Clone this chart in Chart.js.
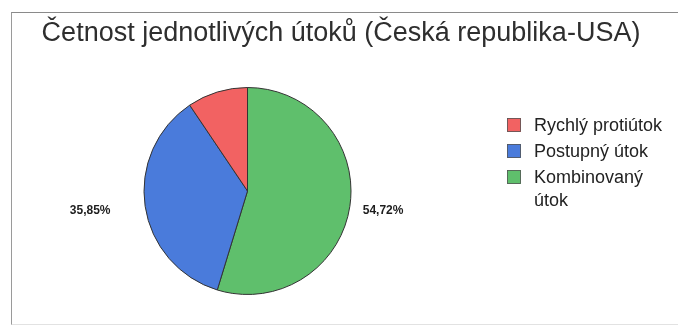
<!DOCTYPE html>
<html>
<head>
<meta charset="utf-8">
<script src="https://cdn.jsdelivr.net/npm/chart.js@4/dist/chart.umd.min.js"></script>
<style>
  html, body { margin: 0; padding: 0; background: #fff; }
  #wrap { position: relative; width: 678px; height: 326px; overflow: hidden; }
  #frame { position: absolute; left: 11px; top: 12px; width: 700px; height: 311px;
           border-left: 1px solid #9a9a9a; border-top: 1px solid #8a8a8a; border-bottom: 1px solid #e2e2e2; }
  canvas { position: absolute; left: 0; top: 0; }
</style>
</head>
<body>
<div id="wrap">
  <div id="frame"></div>
  <canvas id="c" width="678" height="326"></canvas>
</div>
<script>
// Attack types and their share of all attacks (percent)
const categories = ['Rychlý protiútok', 'Postupný útok', 'Kombinovaný útok'];
const shares = [9.43, 35.85, 54.72];
const colors = ['#f26262', '#4a7bdb', '#5fbf6c'];
const showValue = [false, true, true];
const titleText = 'Četnost jednotlivých útoků (Česká republika-USA)';

const FONT = '"Liberation Sans", Arial, sans-serif';

// Slices run clockwise from 12 o'clock in reverse category order
const order = categories.map((_, i) => i).reverse();

const fmt = v => v.toFixed(2).replace('.', ',') + '%';

const decorations = {
  id: 'decorations',
  afterDraw(chart) {
    const ctx = chart.ctx;
    ctx.save();
    // title
    ctx.fillStyle = '#2e2e2e';
    ctx.font = '27px ' + FONT;
    ctx.textAlign = 'center';
    ctx.textBaseline = 'alphabetic';
    ctx.fillText(titleText, 341, 41);

    // value labels beside the slices
    const meta = chart.getDatasetMeta(0);
    ctx.font = 'bold 12px ' + FONT;
    ctx.fillStyle = '#1e1e1e';
    ctx.textBaseline = 'middle';
    meta.data.forEach((arc, j) => {
      const idx = order[j];
      if (!showValue[idx]) return;
      const mid = (arc.startAngle + arc.endAngle) / 2;
      const c = Math.cos(mid), s = Math.sin(mid);
      const left = c < 0;
      const d = arc.outerRadius + (left ? 35 : 13);
      ctx.textAlign = left ? 'right' : 'left';
      ctx.fillText(fmt(chart.data.datasets[0].data[j]), arc.x + c * d, arc.y + s * d + (left ? -1 : 2));
    });

    // legend
    const lx = 507, rows = [125, 151, 177];
    ctx.font = '18px ' + FONT;
    ctx.textAlign = 'left';
    ctx.textBaseline = 'middle';
    categories.forEach((name, i) => {
      const y = rows[i];
      ctx.fillStyle = colors[i];
      ctx.fillRect(lx, y - 7, 14, 14);
      ctx.strokeStyle = '#555';
      ctx.lineWidth = 0.8;
      ctx.strokeRect(lx + 0.5, y - 6.5, 13, 13);
      ctx.fillStyle = '#222';
      const lines = name === 'Kombinovaný útok' ? ['Kombinovaný', 'útok'] : [name];
      lines.forEach((t, k) => ctx.fillText(t, lx + 27, y + 1 + k * 23));
    });
    ctx.restore();
  }
};

new Chart(document.getElementById('c'), {
  type: 'pie',
  data: {
    labels: order.map(i => categories[i]),
    datasets: [{
      data: order.map(i => shares[i]),
      backgroundColor: order.map(i => colors[i]),
      borderColor: '#333',
      borderWidth: 1
    }]
  },
  options: {
    responsive: false,
    animation: false,
    rotation: 0,
    layout: { padding: { left: 143, right: 326, top: 87, bottom: 31 } },
    plugins: { legend: { display: false }, title: { display: false }, tooltip: { enabled: false } }
  },
  plugins: [decorations]
});
</script>
</body>
</html>
